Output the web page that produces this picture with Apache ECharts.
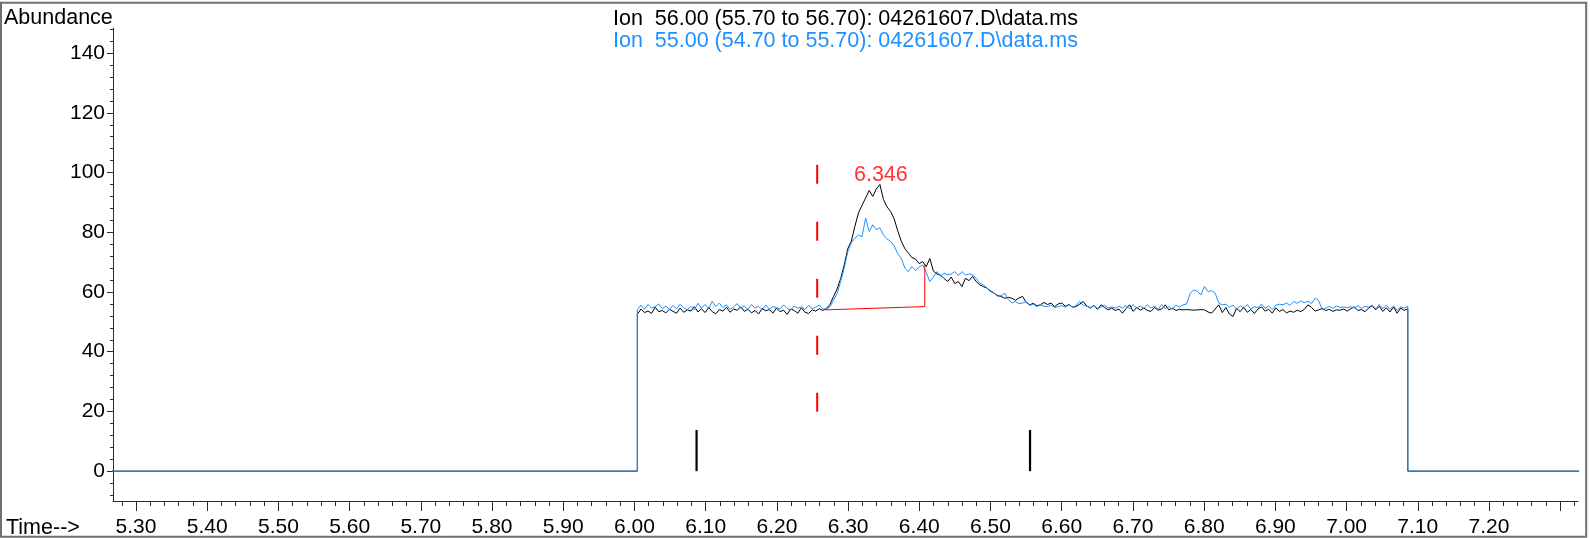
<!DOCTYPE html>
<html><head><meta charset="utf-8">
<script src="https://cdn.jsdelivr.net/npm/echarts@6/dist/echarts.min.js"></script>
<style>html,body{margin:0;padding:0;background:#fff}#c{width:1590px;height:538px}</style>
</head><body><div id="c"></div>
<script>
// ---------- data ----------
const titleLines = ['Ion  56.00 (55.70 to 56.70): 04261607.D\\data.ms', 'Ion  55.00 (54.70 to 55.70): 04261607.D\\data.ms'];
const yAxisName = 'Abundance';
const xAxisName = 'Time-->';
const yTickValues = [0, 20, 40, 60, 80, 100, 120, 140];
const xTickValues = [5.30, 5.40, 5.50, 5.60, 5.70, 5.80, 5.90, 6.00, 6.10, 6.20, 6.30, 6.40, 6.50, 6.60, 6.70, 6.80, 6.90, 7.00, 7.10, 7.20, 7.30];
const xLabelValues = [5.30, 5.40, 5.50, 5.60, 5.70, 5.80, 5.90, 6.00, 6.10, 6.20, 6.30, 6.40, 6.50, 6.60, 6.70, 6.80, 6.90, 7.00, 7.10, 7.20];
const xMin = 5.2677, xMax = 7.325;
const yMin = -10, yMax = 148.4;
const scanStart = 6.004, scanEnd = 7.086;

// Ion 56 (black) abundance per scan
const ion56 = [
  52.5,54.3,53.1,53.6,52.8,54.9,53.4,53.8,53.0,54.2,
  53.5,52.9,54.6,53.2,54.0,53.6,55.1,53.3,54.4,53.1,
  54.8,53.4,52.7,54.1,53.6,54.9,53.2,54.3,53.9,55.0,
  53.5,54.2,53.0,53.8,52.6,54.5,53.7,54.1,52.9,54.6,
  53.4,53.9,52.5,54.3,53.8,52.9,54.7,53.2,52.8,54.0,
  53.6,54.4,53.8,
  54.5,55.8,58.5,61.0,64.5,69.0,74.5,77.0,82.0,86.5,
  89.0,91.5,94.0,92.0,94.5,96.0,91.0,88.5,87.0,84.5,
  80.5,77.0,74.5,73.0,71.5,71.0,69.5,70.2,68.5,71.2,
  67.0,66.0,65.7,64.5,63.5,65.0,62.8,63.5,61.8,64.6,
  63.8,65.2,63.5,62.4,61.8,61.3,60.2,59.6,58.8,58.5,
  57.9,58.2,57.9,57.2,58.0,58.5,56.5,55.7,56.2,55.4,
  55.7,56.5,55.8,56.3,55.1,56.0,56.3,55.2,55.8,54.9,
  55.1,55.9,56.8,55.3,54.6,55.5,54.2,55.7,54.8,54.0,
  54.6,53.8,54.3,52.9,54.4,55.7,53.5,54.8,53.9,54.6,
  53.8,
  53.5,54.8,53.9,54.3,55.7,54.0,54.6,53.8,54.2,54.0,
  54.1,54.0,53.9,54.0,54.1,54.0,53.3,52.9,54.3,55.7,
  53.1,54.8,52.6,51.8,54.5,53.4,54.9,53.2,54.1,52.8,
  54.3,55.0,53.6,54.2,52.9,54.7,53.5,54.1,53.0,53.6,
  53.2,53.9,53.4,54.2,55.7,54.8,53.6,54.0,54.5,53.8,
  54.2,53.5,54.0,53.9,54.3,53.6,54.4,55.0,53.8,54.1,
  53.4,54.6,55.4,54.0,55.2,53.5,54.7,53.3,55.0,52.9,
  54.6,53.8,54.4
];
// Ion 55 (blue) abundance per scan
const ion55 = [
  54.0,55.6,54.2,55.8,54.6,55.1,56.0,54.4,55.3,54.1,
  55.5,54.3,55.9,54.7,54.1,55.2,54.0,56.2,54.6,55.8,
  54.4,56.9,55.1,56.3,54.8,55.7,54.2,55.0,56.1,54.5,
  55.4,54.1,55.8,54.6,55.2,54.0,55.6,54.3,55.1,54.8,
  54.2,55.7,54.5,53.9,55.3,54.6,55.0,54.1,55.5,54.4,
  54.9,55.6,54.3,
  54.3,55.0,57.2,59.5,63.5,68.0,73.5,76.5,78.0,79.1,
  78.5,84.8,80.2,82.5,80.8,81.5,79.1,77.8,76.9,75.5,
  72.8,71.3,68.0,66.8,68.5,67.2,68.3,69.1,66.5,63.5,
  65.0,66.8,65.2,66.3,65.7,66.0,66.8,65.5,66.8,65.7,
  66.0,65.7,64.6,63.0,62.4,61.3,60.5,59.6,58.5,58.8,
  59.6,57.5,56.3,56.8,56.1,56.3,56.8,55.5,55.9,55.1,
  55.7,55.2,55.1,55.6,54.8,55.1,55.4,54.9,55.7,55.0,
  55.4,56.8,55.6,55.2,54.8,55.3,54.6,54.9,55.6,54.6,
  55.0,54.6,55.2,54.6,55.5,54.3,55.8,54.6,55.3,54.5,
  55.7,
  54.6,55.3,54.1,55.8,54.5,55.1,54.2,55.6,54.9,55.7,
  56.0,59.6,60.7,60.2,59.0,61.8,60.1,60.5,59.6,56.3,
  55.7,55.9,54.8,55.6,54.2,55.4,54.6,55.8,54.3,55.1,
  54.7,56.0,54.5,55.3,54.1,55.6,55.9,55.7,56.3,55.5,
  56.8,56.2,57.0,56.4,56.9,56.1,57.9,57.2,54.0,54.6,
  55.2,54.5,55.3,54.8,55.0,54.7,55.1,54.6,55.4,54.5,
  55.2,54.9,55.6,54.3,55.8,54.4,55.5,54.2,55.3,53.9,
  55.0,54.6,55.2
];

const peakTime = 6.346, peakLabel = '6.346', peakLabelY = 99.3;
const integBaseline = [[6.267, 54.0], [6.4077, 55.1], [6.4077, 69.1]];
const startMarker = [[6.2566, 102.6], [6.2566, 19.1]];
const eventMarkerTimes = [6.0872, 6.5555];
const eventMarkerHeight = 13.8;

// ---------- chart ----------
const FONT = '"Liberation Sans", Arial, Helvetica, sans-serif';
const AX = '#2a2a2a';
function trace(vals) {
  const n = vals.length, dt = (scanEnd - scanStart) / (n - 1);
  const d = [[xMin - 0.2, 0], [scanStart, 0]];
  vals.forEach((v, i) => d.push([scanStart + i * dt, v]));
  d.push([scanEnd, 0], [xMax + 0.2, 0]);
  return d;
}
const lineBase = { type: 'line', symbol: 'none', silent: true, animation: false, clip: true };
const series = [
  Object.assign({}, lineBase, { name: 'ion56', data: trace(ion56), color: '#000', lineStyle: { color: '#000', width: 1 }, z: 2 }),
  Object.assign({}, lineBase, { name: 'ion55', data: trace(ion55), color: '#1E90FF', lineStyle: { color: '#1E90FF', width: 1 }, z: 3 }),
  Object.assign({}, lineBase, { name: 'base', data: integBaseline, color: '#ff0000', lineStyle: { color: '#ff0000', width: 1 }, z: 4 }),
  Object.assign({}, lineBase, { name: 'start', data: startMarker, color: '#ff0000', lineStyle: { color: '#ff0000', width: 2, type: [19, 38] }, z: 4 })
];
eventMarkerTimes.forEach(t => series.push(Object.assign({}, lineBase, {
  data: [[t, 0], [t, eventMarkerHeight]], color: '#000', lineStyle: { color: '#000', width: 2.2 }, z: 5
})));
series.push({
  type: 'scatter', silent: true, animation: false, symbolSize: 1,
  itemStyle: { color: 'rgba(0,0,0,0)' },
  data: [[peakTime, peakLabelY]],
  label: { show: true, position: 'inside', formatter: peakLabel, color: '#ff0000', fontSize: 21.5, fontFamily: FONT }
});

const chart = echarts.init(document.getElementById('c'), null, { renderer: 'canvas' });
chart.setOption({
  animation: false,
  backgroundColor: '#fff',
  title: [
    { text: titleLines[0], left: 613, top: 8, padding: 0, textStyle: { fontSize: 21.5, fontWeight: 'normal', color: '#000', fontFamily: FONT } },
    { text: titleLines[1], left: 613, top: 30.5, padding: 0, textStyle: { fontSize: 21.5, fontWeight: 'normal', color: '#1E90FF', fontFamily: FONT } },
    { text: yAxisName, left: 4, top: 7, padding: 0, textStyle: { fontSize: 21.5, fontWeight: 'normal', color: '#000', fontFamily: FONT } },
    { text: xAxisName, left: 6, top: 517, padding: 0, textStyle: { fontSize: 21.5, fontWeight: 'normal', color: '#000', fontFamily: FONT } }
  ],
  grid: { left: 113, right: 12, top: 28, bottom: 37, containLabel: false, outerBoundsMode: 'none' },
  xAxis: {
    type: 'value', min: xMin, max: xMax, minInterval: 0.1, maxInterval: 0.1,
    axisLine: { show: true, onZero: false, lineStyle: { color: AX, width: 1 } },
    axisTick: { show: true, length: 10, customValues: xTickValues, lineStyle: { color: AX, width: 1 } },
    minorTick: { show: true, splitNumber: 5, length: 5, lineStyle: { color: AX, width: 1 } },
    axisLabel: { customValues: xLabelValues, margin: 16, fontSize: 21, color: '#000', fontFamily: FONT,
      formatter: v => v.toFixed(2) },
    splitLine: { show: false }, minorSplitLine: { show: false }
  },
  yAxis: {
    type: 'value', min: yMin, max: yMax, minInterval: 20, maxInterval: 20,
    axisLine: { show: true, onZero: false, lineStyle: { color: AX, width: 1 } },
    axisTick: { show: true, length: 6, customValues: yTickValues, lineStyle: { color: AX, width: 1 } },
    minorTick: { show: true, splitNumber: 5, length: 3, lineStyle: { color: AX, width: 1 } },
    axisLabel: { customValues: yTickValues, margin: 8, fontSize: 21, color: '#000', fontFamily: FONT },
    splitLine: { show: false }, minorSplitLine: { show: false }
  },
  graphic: [{
    type: 'rect', silent: true, z: 100,
    shape: { x: 1, y: 2.7, width: 1585.2, height: 534 },
    style: { fill: 'none', stroke: '#707070', lineWidth: 2 }
  }],
  series: series
});
</script></body></html>
